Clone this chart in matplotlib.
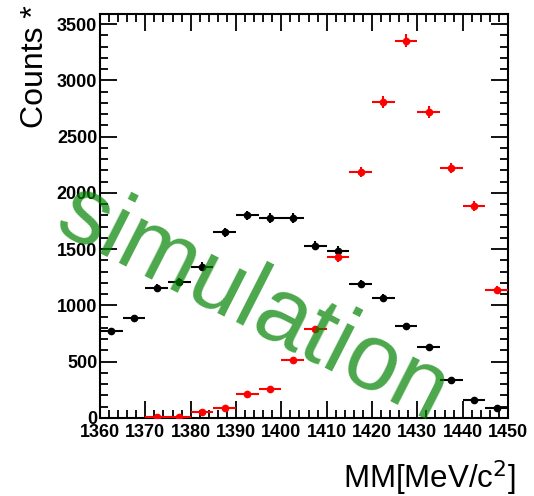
import numpy as np
import matplotlib
matplotlib.use("Agg")
import matplotlib.pyplot as plt
from matplotlib.ticker import MultipleLocator

plt.rcParams['font.family'] = ['Liberation Sans', 'DejaVu Sans']

# bin centres [MeV/c^2], 5 MeV bins
mm_bins = [1362.5, 1367.5, 1372.5, 1377.5, 1382.5, 1387.5, 1392.5, 1397.5, 1402.5,
           1407.5, 1412.5, 1417.5, 1422.5, 1427.5, 1432.5, 1437.5, 1442.5, 1447.5]

# black histogram
counts_black = [770, 888, 1155, 1210, 1345, 1652, 1800, 1776, 1776,
                1532, 1488, 1188, 1070, 815, 628, 336, 158, 88]

# red histogram (starts at 1372.5)
mm_bins_red = mm_bins[2:]
counts_red = [5, 8, 56, 86, 213, 254, 515, 790, 1428,
              2186, 2812, 3352, 2722, 2223, 1882, 1140]

fig = plt.figure(figsize=(5.34, 4.96), dpi=100)
ax = fig.add_axes([0.1873, 0.1573, 0.764, 0.8145])

half_bin = 2.5
ax.errorbar(mm_bins, counts_black, xerr=half_bin, yerr=np.sqrt(counts_black),
            fmt='o', color='black', ms=4.5, elinewidth=1.5, capsize=0, zorder=3)
ax.errorbar(mm_bins_red, counts_red, xerr=half_bin, yerr=np.sqrt(counts_red),
            fmt='o', color='red', ms=4.5, elinewidth=1.5, capsize=0, zorder=3)

ax.set_xlim(1360, 1450)
ax.set_ylim(0, 3590)

ax.xaxis.set_major_locator(MultipleLocator(10))
ax.xaxis.set_minor_locator(MultipleLocator(2))
ax.yaxis.set_major_locator(MultipleLocator(500))
ax.yaxis.set_minor_locator(MultipleLocator(100))
ax.tick_params(which='both', direction='in', top=True, right=True, width=1.3)
ax.tick_params(which='major', length=12)
ax.tick_params(which='minor', length=6)
ax.tick_params(axis='x', pad=4)
ax.tick_params(axis='y', pad=2)
for lab in ax.get_xticklabels() + ax.get_yticklabels():
    lab.set_fontweight('bold')
    lab.set_fontsize(13)
for sp in ax.spines.values():
    sp.set_linewidth(1.5)

fig.text(0.066, 0.99, 'Counts *', rotation=90, ha='center', va='top', fontsize=23)
fig.text(0.965, 0.036, 'MM[MeV/c$^2$]', ha='right', va='center', fontsize=22.5)

# watermark
fig.text(0.472, 0.385, 'simulation', rotation=-27, ha='center', va='center',
         fontsize=68, color=(0.0, 0.51, 0.0), alpha=0.7, zorder=5,
         rotation_mode='anchor')

fig.savefig('out.png', dpi=100)
